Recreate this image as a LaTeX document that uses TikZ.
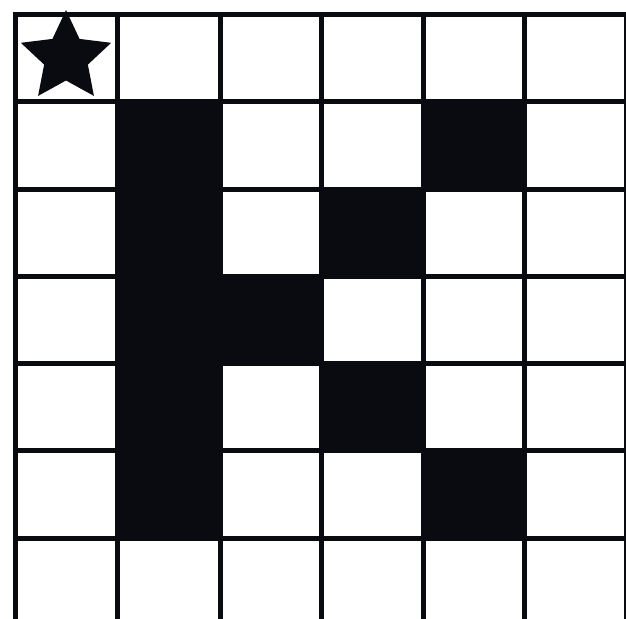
\documentclass[tikz,border=0pt]{standalone}
\usetikzlibrary{calc}
\definecolor{ink}{HTML}{0A0B10}
\begin{document}
\begin{tikzpicture}[x=1pt,y=-1pt,
  gridline/.style={draw=ink,line width=5pt},
  blackcell/.style={fill=ink}]
\useasboundingbox (0,0) rectangle (626,618);
\clip (0,0) rectangle (626,618);
\def\xs{{15,117.5,220,321.5,423.5,524,626}}
\def\ys{{15,101.5,189,276,363,450.5,538,625.5}}
% black cells: (column, row) indices
\foreach \c/\r in {1/1,4/1,1/2,3/2,1/3,2/3,1/4,3/4,1/5,4/5}{
  \pgfmathsetmacro{\xa}{\xs[\c]}
  \pgfmathsetmacro{\xb}{\xs[\c+1]}
  \pgfmathsetmacro{\ya}{\ys[\r]}
  \pgfmathsetmacro{\yb}{\ys[\r+1]}
  \fill[blackcell] (\xa,\ya) rectangle (\xb,\yb);
}
% grid lines
\foreach \i in {0,...,6}{
  \pgfmathsetmacro{\xx}{\xs[\i]}
  \draw[gridline] (\xx,12.5) -- (\xx,630);
}
\foreach \j in {0,...,7}{
  \pgfmathsetmacro{\yy}{\ys[\j]}
  \draw[gridline] (12.5,\yy) -- (630,\yy);
}
% star
\coordinate (sc) at (66,57.5);
\def\ro{47.5}
\def\ri{23}
\fill[ink] ($(sc)+(-90:\ro)$)
  -- ($(sc)+(-54:\ri)$) -- ($(sc)+(-18:\ro)$)
  -- ($(sc)+(18:\ri)$) -- ($(sc)+(54:\ro)$)
  -- ($(sc)+(90:\ri)$) -- ($(sc)+(126:\ro)$)
  -- ($(sc)+(162:\ri)$) -- ($(sc)+(198:\ro)$)
  -- ($(sc)+(234:\ri)$) -- cycle;
\end{tikzpicture}
\end{document}
